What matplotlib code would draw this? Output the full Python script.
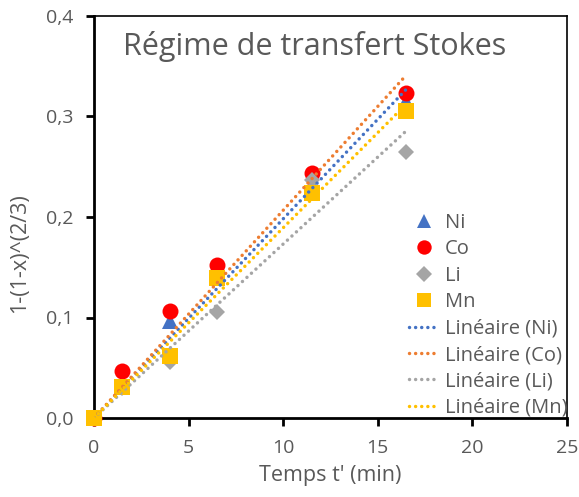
import numpy as np
import matplotlib
matplotlib.use('Agg')
import matplotlib.pyplot as plt
from matplotlib.ticker import FuncFormatter

plt.rcParams['font.family'] = ['Open Sans', 'DejaVu Sans']

# Sampling times (min) and 1-(1-x)^(2/3) for each metal
t = np.array([0, 1.5, 4, 6.5, 11.5, 16.5])
ni = np.array([0, 0.035, 0.097, 0.140, 0.232, 0.315])
co = np.array([0, 0.047, 0.106, 0.152, 0.2435, 0.323])
li = np.array([0, 0.030, 0.056, 0.105, 0.237, 0.265])
mn = np.array([0, 0.031, 0.062, 0.139, 0.2236, 0.305])

series = [
    ('Ni', ni, '^', '#4472C4', '#4472C4'),
    ('Co', co, 'o', '#FF0000', '#ED7D31'),
    ('Li', li, 'D', '#A5A5A5', '#A5A5A5'),
    ('Mn', mn, 's', '#FFC000', '#FFC000'),
]
msize = {'^': 11, 'o': 11.5, 'D': 8.5, 's': 11}

grey = '#595959'

fig = plt.figure(figsize=(5.79, 4.97), dpi=100)
ax = fig.add_axes([94 / 579, 1 - 418 / 497, 473 / 579, 402 / 497])

for name, y, m, c, _ in series:
    ax.plot(t, y, linestyle='none', marker=m, markersize=msize[m],
            color=c, markeredgewidth=0, label=name, zorder=3, clip_on=False)

# linear trendlines forced through the origin
tt = np.array([0, t.max()])
for name, y, _, _, lc in series:
    slope = np.sum(t * y) / np.sum(t * t)
    ax.plot(tt, slope * tt, linestyle=(0, (0.01, 1.75)), linewidth=2.5,
            dash_capstyle='round', color=lc, label='Linéaire (%s)' % name,
            zorder=4)

ax.set_xlim(0, 25)
ax.set_ylim(0, 0.4)
ax.set_xticks(np.arange(0, 26, 5))
ax.set_yticks(np.arange(0, 0.41, 0.1))
ax.yaxis.set_major_formatter(FuncFormatter(lambda v, p: ('%.1f' % v).replace('.', ',')))

for s in ['left', 'bottom']:
    ax.spines[s].set_linewidth(2)
for s in ['top', 'right']:
    ax.spines[s].set_linewidth(1.2)
ax.tick_params(direction='out', length=6, width=2, labelsize=14,
               labelcolor=grey)
ax.tick_params(axis='y', pad=9)
ax.tick_params(axis='x', pad=9)

ax.set_xlabel("Temps t' (min)", fontsize=15.5, color=grey, labelpad=6)
ax.set_ylabel('1-(1-x)^(2/3)', fontsize=15.5, color=grey)
ax.yaxis.set_label_coords(-0.135, 0.41)

ax.text(0.467, 0.925, 'Régime de transfert Stokes', transform=ax.transAxes,
        ha='center', va='center', fontsize=22, color=grey)

ax.legend(loc='lower right', bbox_to_anchor=(1.01, -0.01), frameon=False,
          fontsize=14.5, labelcolor=grey, handlelength=1.5, handletextpad=0.3,
          labelspacing=0.32, borderaxespad=0, borderpad=0.2, markerscale=0.9)

fig.savefig('out.png', dpi=100)
